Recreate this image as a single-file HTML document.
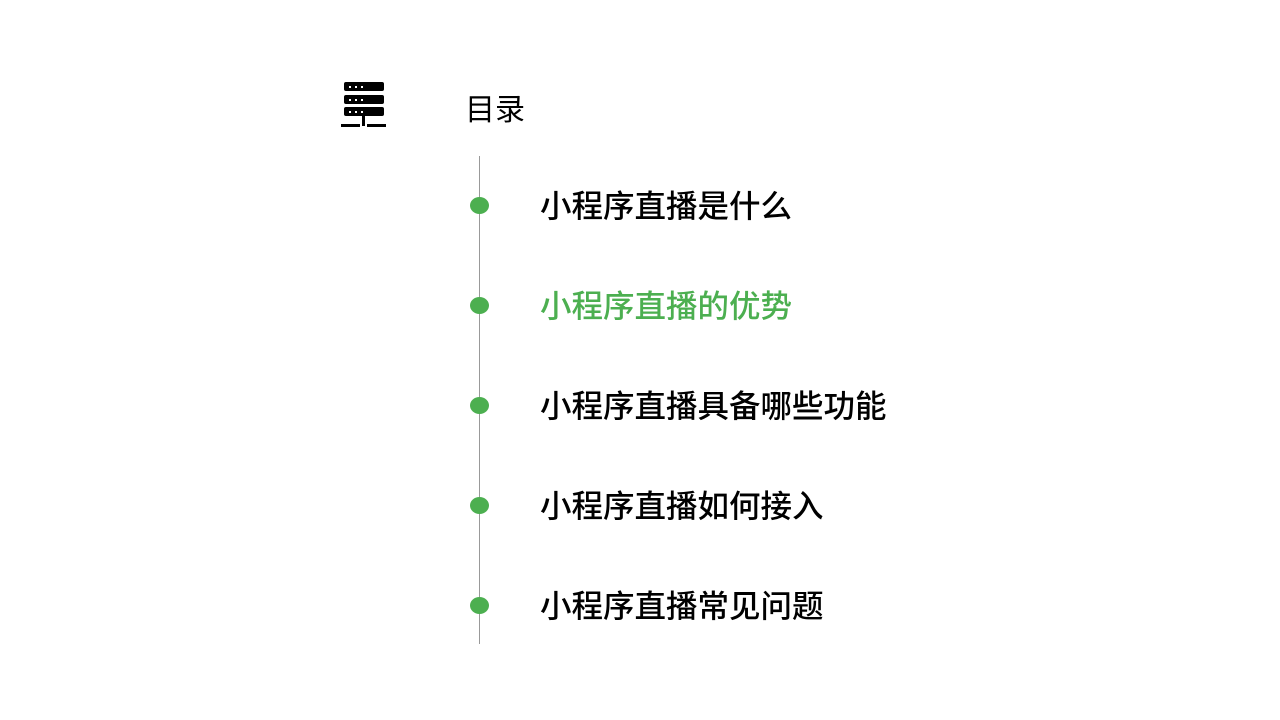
<!DOCTYPE html>
<html><head><meta charset="utf-8"><style>
body{margin:0;width:1280px;height:720px;background:#fff;position:relative;overflow:hidden;font-family:"Liberation Sans","Noto Sans CJK SC",sans-serif}
.t{position:absolute;font-size:31.5px;line-height:40px;color:#000;white-space:nowrap;font-weight:500}
.d{position:absolute;width:19px;height:17px;border-radius:50%;background:#4caf50;left:470px}
.bar{position:absolute;left:344px;width:40px;height:9px;background:#000;border-radius:2px}
.bar i{position:absolute;top:4px;width:2px;height:2px;background:#fff}
</style></head><body>
<div class="bar" style="top:82px"><i style="left:5px"></i><i style="left:11px"></i><i style="left:17px"></i></div>
<div class="bar" style="top:95px"><i style="left:5px"></i><i style="left:11px"></i><i style="left:17px"></i></div>
<div class="bar" style="top:107px"><i style="left:5px"></i><i style="left:11px"></i><i style="left:17px"></i></div>
<div style="position:absolute;left:362px;top:116px;width:3px;height:10px;background:#000"></div>
<div style="position:absolute;left:341px;top:124px;width:19px;height:3px;background:#000"></div>
<div style="position:absolute;left:367px;top:124px;width:19px;height:3px;background:#000"></div>
<div class="t" style="left:465px;top:91px;font-size:30px;font-weight:400">目录</div>
<div style="position:absolute;left:479px;top:156px;width:1px;height:488px;background:#999"></div>
<div class="d" style="top:197px"></div>
<div class="d" style="top:297px"></div>
<div class="d" style="top:397px"></div>
<div class="d" style="top:497px"></div>
<div class="d" style="top:597px"></div>
<div class="t" style="left:540px;top:186px">小程序直播是什么</div>
<div class="t" style="left:540px;top:286px;color:#4caf50">小程序直播的优势</div>
<div class="t" style="left:540px;top:386px">小程序直播具备哪些功能</div>
<div class="t" style="left:540px;top:486px">小程序直播如何接入</div>
<div class="t" style="left:540px;top:586px">小程序直播常见问题</div>
</body></html>
